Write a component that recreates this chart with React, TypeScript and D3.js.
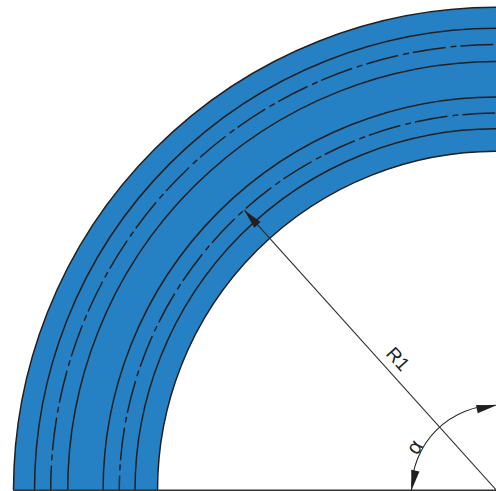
import React from "react";
import * as d3 from "d3";

const bandRadii = [483, 339];
const solidRadii = [483, 462, 428.8, 393.4, 361.5, 339];
const centerlineRadii = [445.8, 377.2];
const leaderTipRadius = 377.2;
const leaderAngleDeg = 48;
const alphaRadius = 85;
const labels = { radius: "R1", angle: "α" };

const W = 496, H = 491;
const cx = 496.5, cy = 490.3;
const INK = "#231f20";
const BLUE = "#2581c4";

const start = -Math.PI / 2, end = 0;

function arcPath(r: number) {
  const p = d3.path();
  p.arc(0, 0, r, Math.PI, 1.5 * Math.PI);
  return p.toString();
}

function Head({ x, y, rot }: { x: number; y: number; rot: number }) {
  return <path d="M0,0L-20,-4.2L-20,4.2Z" transform={`translate(${x},${y}) rotate(${rot})`} fill={INK} />;
}

export default function App() {
  const band = d3.arc()({ innerRadius: bandRadii[1], outerRadius: bandRadii[0], startAngle: start, endAngle: end }) as string;
  const a = (leaderAngleDeg * Math.PI) / 180;
  const tipX = -leaderTipRadius * Math.cos(a), tipY = -leaderTipRadius * Math.sin(a);
  return (
    <svg width={W} height={H} viewBox={`0 0 ${W} ${H}`} style={{ position: "absolute", left: 0, top: 0, background: "#fff" }}>
      <g transform={`translate(${cx},${cy})`} fill="none" stroke={INK}>
        <path d={band} fill={BLUE} stroke="none" />
        {solidRadii.map((r) => (
          <path key={r} d={arcPath(r)} strokeWidth={1.5} />
        ))}
        {centerlineRadii.map((r, i) => (
          <path key={r} d={arcPath(r)} strokeWidth={1.5} strokeDasharray="33 5 6 4" strokeDashoffset={i === 0 ? 8 : 18} />
        ))}
        <line x1={-bandRadii[0]} x2={0} y1={0} y2={0} stroke="#333" strokeWidth={1.4} />
        <line x1={tipX} y1={tipY} x2={0} y2={0} stroke="#2a2a2a" strokeWidth={1.1} />
        <path d={arcPath(alphaRadius)} stroke="#2a2a2a" strokeWidth={1.1} />
        <g stroke="none">
          <Head x={tipX} y={tipY} rot={leaderAngleDeg + 180} />
          <Head x={-alphaRadius} y={0} rot={101} />
          <Head x={0} y={-alphaRadius} rot={-11} />
        </g>
      </g>
      <g fill={INK} fontFamily="Liberation Sans, Arial, sans-serif" fontSize={19}>
        <text transform="translate(398,359) rotate(48)" textAnchor="middle" dominantBaseline="central">{labels.radius}</text>
        <text transform="translate(414,447) rotate(-58)" textAnchor="middle" dominantBaseline="central" fontSize={21}>{labels.angle}</text>
      </g>
    </svg>
  );
}
